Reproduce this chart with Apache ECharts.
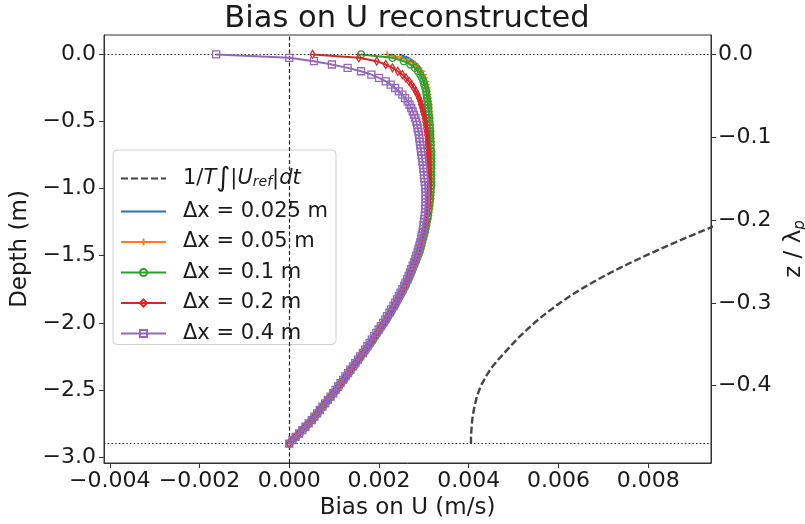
<!DOCTYPE html>
<html><head><meta charset="utf-8">
<script src="https://cdn.jsdelivr.net/npm/echarts@6/dist/echarts.min.js"></script>
<style>html,body{margin:0;padding:0;background:#fff}#c{width:805px;height:524px}</style>
</head><body><div id="c"></div>
<script>
// Depth grid (m)
const depth = [
  0, -0.025, -0.05, -0.075, -0.1, -0.125, -0.15, -0.175,
  -0.2, -0.225, -0.25, -0.275, -0.3, -0.325, -0.35, -0.375, -0.4, -0.425,
  -0.45, -0.475, -0.5, -0.525, -0.55, -0.575, -0.6, -0.625, -0.65, -0.675,
  -0.7, -0.725, -0.75, -0.775, -0.8, -0.825, -0.85, -0.875, -0.9, -0.925,
  -0.95, -0.975, -1.0, -1.025, -1.05, -1.075, -1.1, -1.125, -1.15, -1.175,
  -1.2, -1.225, -1.25, -1.275, -1.3, -1.325, -1.35, -1.375, -1.4, -1.425,
  -1.45, -1.475, -1.5, -1.525, -1.55, -1.575, -1.6, -1.625, -1.65, -1.675,
  -1.7, -1.725, -1.75, -1.775, -1.8, -1.825, -1.85, -1.875, -1.9, -1.925,
  -1.95, -1.975, -2.0, -2.025, -2.05, -2.075, -2.1, -2.125, -2.15, -2.175,
  -2.2, -2.225, -2.25, -2.275, -2.3, -2.325, -2.35, -2.375, -2.4, -2.425,
  -2.45, -2.475, -2.5, -2.525, -2.55, -2.575, -2.6, -2.625, -2.65, -2.675,
  -2.7, -2.725, -2.75, -2.775, -2.8, -2.825, -2.85, -2.875, -2.9
];
// Bias on U, in units of 1e-3 m/s (one value per depth)
const biasDx0025 = [
  2.45, 2.65, 2.77, 2.86, 2.92, 2.96, 2.99, 3.02,
  3.04, 3.06, 3.07, 3.08, 3.09, 3.10, 3.10, 3.11, 3.11, 3.12,
  3.12, 3.13, 3.13, 3.14, 3.14, 3.15, 3.15, 3.15, 3.15, 3.16,
  3.15, 3.16, 3.16, 3.16, 3.16, 3.16, 3.16, 3.16, 3.16, 3.16,
  3.16, 3.16, 3.15, 3.15, 3.14, 3.14, 3.13, 3.12, 3.11, 3.10,
  3.09, 3.08, 3.06, 3.05, 3.03, 3.02, 3.00, 2.98, 2.96, 2.94,
  2.92, 2.90, 2.87, 2.84, 2.81, 2.78, 2.75, 2.72, 2.69, 2.66,
  2.62, 2.59, 2.55, 2.51, 2.47, 2.43, 2.39, 2.35, 2.30, 2.26,
  2.21, 2.17, 2.12, 2.07, 2.02, 1.97, 1.92, 1.87, 1.82, 1.77,
  1.71, 1.66, 1.60, 1.55, 1.49, 1.44, 1.38, 1.33, 1.27, 1.22,
  1.16, 1.11, 1.05, 0.99, 0.93, 0.87, 0.81, 0.75, 0.69, 0.63,
  0.57, 0.51, 0.44, 0.37, 0.30, 0.23, 0.15, 0.08, 0.0
];
const biasDx005 = [
  2.18, 2.50, 2.68, 2.80, 2.88, 2.94, 2.98, 3.01,
  3.03, 3.05, 3.06, 3.07, 3.08, 3.09, 3.10, 3.11, 3.11, 3.12,
  3.12, 3.13, 3.13, 3.14, 3.14, 3.15, 3.15, 3.16, 3.16, 3.16,
  3.16, 3.17, 3.17, 3.17, 3.17, 3.17, 3.17, 3.17, 3.17, 3.17,
  3.17, 3.17, 3.16, 3.16, 3.15, 3.15, 3.14, 3.13, 3.12, 3.11,
  3.10, 3.09, 3.07, 3.06, 3.04, 3.03, 3.01, 2.99, 2.97, 2.95,
  2.93, 2.91, 2.88, 2.85, 2.82, 2.79, 2.76, 2.73, 2.70, 2.67,
  2.63, 2.60, 2.56, 2.52, 2.48, 2.44, 2.40, 2.36, 2.31, 2.27,
  2.22, 2.17, 2.12, 2.07, 2.02, 1.97, 1.92, 1.87, 1.82, 1.77,
  1.71, 1.66, 1.60, 1.55, 1.49, 1.44, 1.38, 1.33, 1.27, 1.22,
  1.16, 1.11, 1.05, 0.99, 0.93, 0.87, 0.81, 0.75, 0.69, 0.63,
  0.57, 0.51, 0.44, 0.37, 0.30, 0.23, 0.15, 0.08, 0.0
];
const biasDx01 = [
  1.60, 2.30, 2.55, 2.70, 2.80, 2.87, 2.92, 2.96,
  2.99, 3.01, 3.03, 3.05, 3.06, 3.07, 3.08, 3.09, 3.10, 3.10,
  3.11, 3.12, 3.12, 3.13, 3.13, 3.14, 3.14, 3.14, 3.15, 3.15,
  3.15, 3.16, 3.16, 3.16, 3.16, 3.16, 3.16, 3.16, 3.16, 3.16,
  3.16, 3.16, 3.15, 3.15, 3.14, 3.14, 3.13, 3.12, 3.11, 3.10,
  3.09, 3.08, 3.06, 3.05, 3.03, 3.02, 3.00, 2.98, 2.96, 2.94,
  2.92, 2.90, 2.87, 2.84, 2.81, 2.78, 2.75, 2.72, 2.69, 2.66,
  2.62, 2.59, 2.55, 2.51, 2.47, 2.43, 2.39, 2.35, 2.30, 2.26,
  2.21, 2.17, 2.12, 2.07, 2.02, 1.97, 1.92, 1.87, 1.82, 1.77,
  1.71, 1.66, 1.60, 1.55, 1.49, 1.44, 1.38, 1.33, 1.27, 1.22,
  1.16, 1.11, 1.05, 0.99, 0.93, 0.87, 0.81, 0.75, 0.69, 0.63,
  0.57, 0.51, 0.44, 0.37, 0.30, 0.23, 0.15, 0.08, 0.0
];
const biasDx02 = [
  0.52, 1.55, 1.95, 2.15, 2.30, 2.42, 2.52, 2.60,
  2.67, 2.73, 2.78, 2.82, 2.86, 2.89, 2.92, 2.94, 2.96, 2.98,
  3.00, 3.02, 3.03, 3.04, 3.05, 3.06, 3.07, 3.08, 3.08, 3.09,
  3.09, 3.10, 3.10, 3.11, 3.11, 3.11, 3.11, 3.12, 3.12, 3.12,
  3.12, 3.12, 3.12, 3.12, 3.11, 3.11, 3.10, 3.10, 3.09, 3.08,
  3.07, 3.06, 3.05, 3.04, 3.02, 3.01, 2.99, 2.97, 2.95, 2.93,
  2.91, 2.89, 2.86, 2.83, 2.80, 2.77, 2.74, 2.71, 2.68, 2.65,
  2.61, 2.58, 2.54, 2.50, 2.46, 2.42, 2.38, 2.34, 2.29, 2.25,
  2.20, 2.16, 2.11, 2.06, 2.01, 1.96, 1.91, 1.86, 1.81, 1.76,
  1.70, 1.65, 1.59, 1.54, 1.48, 1.43, 1.37, 1.32, 1.26, 1.21,
  1.15, 1.10, 1.04, 0.98, 0.92, 0.86, 0.80, 0.74, 0.68, 0.62,
  0.56, 0.50, 0.43, 0.36, 0.29, 0.22, 0.14, 0.07, 0.0
];
const biasDx04 = [
  -1.63, 0.0, 0.55, 0.95, 1.30, 1.60, 1.83, 2.00,
  2.15, 2.26, 2.36, 2.44, 2.52, 2.58, 2.64, 2.68, 2.72, 2.75,
  2.78, 2.81, 2.83, 2.85, 2.86, 2.88, 2.89, 2.90, 2.91, 2.92,
  2.93, 2.94, 2.95, 2.96, 2.97, 2.98, 2.99, 3.00, 3.00, 3.01,
  3.02, 3.03, 3.03, 3.04, 3.04, 3.04, 3.04, 3.04, 3.03, 3.03,
  3.02, 3.01, 3.00, 2.99, 2.98, 2.97, 2.95, 2.94, 2.92, 2.90,
  2.88, 2.86, 2.83, 2.81, 2.78, 2.75, 2.72, 2.69, 2.66, 2.63,
  2.59, 2.56, 2.52, 2.48, 2.44, 2.40, 2.36, 2.32, 2.27, 2.23,
  2.18, 2.14, 2.09, 2.04, 1.99, 1.94, 1.89, 1.84, 1.79, 1.74,
  1.69, 1.64, 1.58, 1.53, 1.47, 1.42, 1.36, 1.31, 1.25, 1.20,
  1.14, 1.09, 1.03, 0.98, 0.92, 0.86, 0.80, 0.74, 0.68, 0.62,
  0.56, 0.50, 0.43, 0.36, 0.29, 0.22, 0.14, 0.07, 0.0
];
// Reference 1/T ∫|U_ref| dt (1e-3 m/s) vs depth (m)
const refDepth = [-2.9, -2.85, -2.8, -2.75, -2.69, -2.62, -2.54, -2.47, -2.39, -2.33, -2.27, -2.2, -2.12, -2.05,
  -1.99, -1.93, -1.87, -1.8, -1.74, -1.68, -1.62, -1.56, -1.5, -1.45, -1.39, -1.35, -1.3, -1.25];
const refBias = [4.05, 4.05, 4.06, 4.07, 4.09, 4.13, 4.19, 4.27, 4.40, 4.52, 4.67, 4.86, 5.08, 5.30,
  5.50, 5.72, 5.96, 6.26, 6.55, 6.86, 7.20, 7.56, 7.94, 8.27, 8.68, 8.96, 9.32, 9.68];

const seriesNames = ['Δx = 0.025 m', 'Δx = 0.05 m', 'Δx = 0.1 m', 'Δx = 0.2 m', 'Δx = 0.4 m'];
const refName = '1/T∫|U_ref|dt';
const xTicks = [-0.004, -0.002, 0, 0.002, 0.004, 0.006, 0.008];
const yTicks = [0, -0.5, -1, -1.5, -2, -2.5, -3];
const zTicks = [0, -0.1, -0.2, -0.3, -0.4];
const surfaceDepth = 0, bottomDepth = -2.9;

const FONT = 'DejaVu Sans';
const INK = '#1a1a1a';
function fmt(v, d) { return (v < -1e-12 ? '\u2212' : '') + Math.abs(v).toFixed(d); }

const chart = echarts.init(document.getElementById('c'), null, {renderer: 'canvas'});

function mk(name, vals, color, symbol, size, z) {
  return {
    type: 'line', name, z, animation: false, xAxisIndex: 0, yAxisIndex: 0,
    data: depth.map((d, i) => [vals[i] * 1e-3, d]),
    symbol, symbolSize: size, showSymbol: symbol !== 'none', showAllSymbol: true,
    lineStyle: {color, width: 2},
    itemStyle: {color: 'rgba(255,255,255,0)', borderColor: symbol === 'none' ? 'rgba(0,0,0,0)' : color,
                borderWidth: symbol === 'none' ? 0 : 1.3},
    color
  };
}

const cols = ['#1f77b4', '#ff7f0e', '#2ca02c', '#d62728', '#9467bd'];
const series = [
  {
    type: 'line', name: refName, animation: false, z: 1,
    data: refDepth.map((d, i) => [refBias[i] * 1e-3, d]),
    symbol: 'none',
    lineStyle: {color: '#454545', width: 2.4, type: [7, 3]},
    itemStyle: {color: 'rgba(0,0,0,0)', borderColor: 'rgba(0,0,0,0)', borderWidth: 0}, color: '#454545',
    markLine: {
      silent: true, symbol: ['none', 'none'], label: {show: false}, animation: false,
      lineStyle: {color: '#222', width: 1.2},
      data: [
        {yAxis: surfaceDepth, lineStyle: {type: [1.5, 2.2]}},
        {yAxis: bottomDepth, lineStyle: {type: [1.5, 2.2]}},
        {xAxis: 0, lineStyle: {type: [4, 2.5]}}
      ]
    }
  },
  mk(seriesNames[0], biasDx0025, cols[0], 'none', 0, 2),
  mk(seriesNames[1], biasDx005, cols[1], 'path://M5,0L5,10M0,5L10,5', 8, 3),
  mk(seriesNames[2], biasDx01, cols[2], 'circle', 7, 4),
  mk(seriesNames[3], biasDx02, cols[3], 'path://M3,0L6,5L3,10L0,5Z', [5, 8], 5),
  mk(seriesNames[4], biasDx04, cols[4], 'rect', 7, 6)
];

const baseTxt = {fontFamily: FONT, fontSize: 21, color: INK, lineHeight: 22};
chart.setOption({
  animation: false,
  backgroundColor: '#fff',
  textStyle: {fontFamily: FONT},
  title: {
    text: 'Bias on U reconstructed', left: 407, textAlign: 'center', top: 4, padding: 0,
    textStyle: {fontFamily: FONT, fontSize: 30.5, fontWeight: 'normal', color: INK}
  },
  grid: {left: 104, right: 94, top: 35, bottom: 61, show: true, borderColor: '#333', borderWidth: 1,
         containLabel: false, outerBoundsMode: 'none'},
  legend: {
    orient: 'vertical', left: 113, top: 150, padding: [15, 8, 0, 7],
    itemWidth: 45, itemHeight: 9, itemGap: 8.5,
    backgroundColor: 'rgba(255,255,255,0.8)', borderColor: '#d0d0d0', borderWidth: 1, borderRadius: 4,
    data: [refName].concat(seriesNames),
    formatter: function (name) {
      if (name === refName) return '{gap|}{r|1/}{i|T}{int|∫}{r||}{i|U}{sub|ref}{r||}{i|dt}';
      return '{gap|}{r|' + name + '}';
    },
    textStyle: {
      fontFamily: FONT, fontSize: 21, color: INK, lineHeight: 22,
      rich: {
        gap: {width: 12},
        r: baseTxt,
        i: Object.assign({}, baseTxt, {fontStyle: 'italic'}),
        int: Object.assign({}, baseTxt, {fontSize: 27}),
        sub: {fontFamily: FONT, fontSize: 14, fontStyle: 'italic', color: INK, verticalAlign: 'bottom', lineHeight: 14}
      }
    }
  },
  xAxis: {
    type: 'value', min: -0.00413, max: 0.0094, position: 'bottom',
    axisLine: {show: true, onZero: false, lineStyle: {color: '#333', width: 1}},
    axisTick: {show: true, customValues: xTicks, length: 5, lineStyle: {color: '#333'}},
    axisLabel: {customValues: xTicks, formatter: v => fmt(v, 3), fontSize: 22, color: INK, margin: 7, fontFamily: FONT},
    splitLine: {show: false},
    name: 'Bias on U (m/s)', nameLocation: 'middle', nameGap: 31,
    nameTextStyle: {fontSize: 23, color: INK, fontFamily: FONT}
  },
  yAxis: [
    {
      type: 'value', min: -3.045, max: 0.145, position: 'left',
      axisLine: {show: true, onZero: false, lineStyle: {color: '#333', width: 1}},
      axisTick: {show: true, customValues: yTicks, length: 5, lineStyle: {color: '#333'}},
      axisLabel: {customValues: yTicks, formatter: v => fmt(v, 1), fontSize: 22, color: INK, margin: 8, fontFamily: FONT},
      splitLine: {show: false},
      name: 'Depth (m)', nameLocation: 'middle', nameGap: 67, nameRotate: 90,
      nameTextStyle: {fontSize: 23, color: INK, fontFamily: FONT}
    },
    {
      type: 'value', min: -0.4935, max: 0.0235, position: 'right',
      axisLine: {show: true, onZero: false, lineStyle: {color: '#333', width: 1}},
      axisTick: {show: true, customValues: zTicks, length: 5, lineStyle: {color: '#333'}},
      axisLabel: {customValues: zTicks, formatter: v => fmt(v, 1), fontSize: 22, color: INK, margin: 7, fontFamily: FONT},
      splitLine: {show: false},
      name: '{n|z / λ}{s|p}', nameLocation: 'middle', nameGap: 64, nameRotate: 90,
      nameTextStyle: {
        fontSize: 23, color: INK, fontFamily: FONT,
        rich: {
          n: {fontSize: 23, color: INK, fontFamily: FONT, lineHeight: 28},
          s: {fontSize: 15, fontStyle: 'italic', color: INK, fontFamily: FONT, verticalAlign: 'bottom', lineHeight: 18}
        }
      }
    }
  ],
  series
});
</script>
</body></html>
